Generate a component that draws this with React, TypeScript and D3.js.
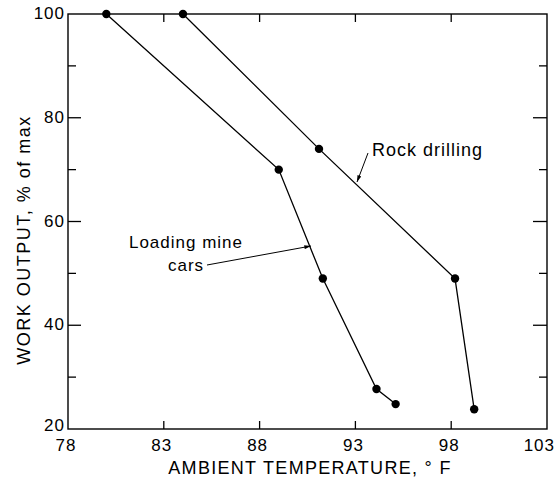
import React from "react";
import * as d3 from "d3";

const loadingTemp = [80.0, 89.0, 91.3, 94.1, 95.1];
const loadingOutput = [100, 70, 49, 27.7, 24.8];
const drillingTemp = [84.0, 91.1, 98.2, 99.2];
const drillingOutput = [100, 74, 49, 23.8];
const xTickValues = [78, 83, 88, 93, 98, 103];
const yTickValues = [20, 40, 60, 80, 100];
const yMinorValues = [30, 50, 70, 90];

const W = 556;
const H = 478;
const FONT = "'Liberation Sans', Arial, sans-serif";

export default function App() {
  const x = d3.scaleLinear().domain([78, 103]).range([68, 547]);
  const y = d3.scaleLinear().domain([20, 100]).range([429, 14]);
  const line = d3
    .line<[number, number]>()
    .x((d) => x(d[0]))
    .y((d) => y(d[1]));
  const loading: [number, number][] = loadingTemp.map((t, i) => [t, loadingOutput[i]]);
  const drilling: [number, number][] = drillingTemp.map((t, i) => [t, drillingOutput[i]]);
  const [x0, x1] = x.range();
  const [y0, y1] = y.range();
  const innerX = xTickValues.slice(1, -1);

  return (
    <svg
      width={W}
      height={H}
      style={{ position: "absolute", left: 0, top: 0, background: "#fff" }}
      fontFamily={FONT}
    >
      <defs>
        <marker id="arr" viewBox="0 0 10 6" refX="10" refY="3" markerWidth="9" markerHeight="4" orient="auto" markerUnits="userSpaceOnUse">
          <path d="M0,0 L10,3 L0,6 Z" fill="#000" />
        </marker>
      </defs>
      <rect x={x0} y={y1} width={x1 - x0} height={y0 - y1} fill="none" stroke="#000" strokeWidth={1.4} />
      {innerX.map((v) => (
        <g key={"xt" + v}>
          <line x1={x(v)} x2={x(v)} y1={y0} y2={y0 - 8} stroke="#000" strokeWidth={1.3} />
          <line x1={x(v)} x2={x(v)} y1={y1} y2={y1 + 8} stroke="#000" strokeWidth={1.3} />
        </g>
      ))}
      {yTickValues.slice(1, -1).map((v) => (
        <g key={"yt" + v}>
          <line x1={x0} x2={x0 + 13} y1={y(v)} y2={y(v)} stroke="#000" strokeWidth={1.3} />
          <line x1={x1} x2={x1 - 14} y1={y(v)} y2={y(v)} stroke="#000" strokeWidth={1.3} />
        </g>
      ))}
      {yMinorValues.map((v) => (
        <g key={"ym" + v}>
          <line x1={x0} x2={x0 + 8} y1={y(v)} y2={y(v)} stroke="#000" strokeWidth={1.3} />
          <line x1={x1} x2={x1 - 8} y1={y(v)} y2={y(v)} stroke="#000" strokeWidth={1.3} />
        </g>
      ))}
      {xTickValues.map((v, i) => {
        const last = i === xTickValues.length - 1;
        return (
          <text
            key={"xl" + v}
            x={last ? 555 : x(v) - 2}
            y={451}
            fontSize={17}
            letterSpacing={1}
            textAnchor={last ? "end" : "middle"}
          >
            {v}
          </text>
        );
      })}
      {yTickValues.map((v, i) => (
        <text key={"yl" + v} x={x0 - 3} y={y(v) + (i === 0 ? 2 : 5)} fontSize={17} letterSpacing={1} textAnchor="end">
          {v}
        </text>
      ))}
      <text x={310} y={474} fontSize={18} letterSpacing={1.3} textAnchor="middle">
        AMBIENT TEMPERATURE, ° F
      </text>
      <text
        transform={`translate(30,240) rotate(-90)`}
        fontSize={18}
        letterSpacing={1.5}
        textAnchor="middle"
      >
        WORK OUTPUT, % of max
      </text>
      <path d={line(loading) || ""} fill="none" stroke="#000" strokeWidth={1.3} />
      <path d={line(drilling) || ""} fill="none" stroke="#000" strokeWidth={1.3} />
      {loading.concat(drilling).map((d, i) => (
        <circle key={"p" + i} cx={x(d[0])} cy={y(d[1])} r={4.2} fill="#000" />
      ))}
      <text x={372} y={156} fontSize={18} letterSpacing={1}>
        Rock drilling
      </text>
      <line x1={368} y1={153} x2={357} y2={182} stroke="#000" strokeWidth={1} markerEnd="url(#arr)" />
      <text x={186} y={248} fontSize={17} letterSpacing={1} textAnchor="middle">
        Loading mine
      </text>
      <text x={186} y={271} fontSize={17} letterSpacing={1} textAnchor="middle">
        cars
      </text>
      <line x1={207} y1={265} x2={311} y2={246} stroke="#000" strokeWidth={1} markerEnd="url(#arr)" />
    </svg>
  );
}
